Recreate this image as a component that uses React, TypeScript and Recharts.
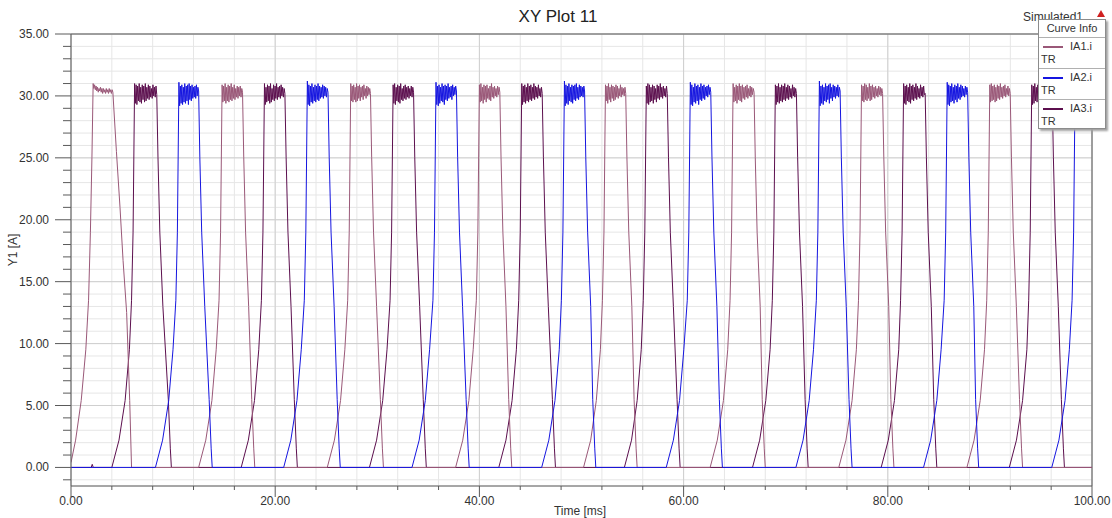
import React from 'react';
import { LineChart, Line, XAxis, YAxis, CartesianGrid, ReferenceLine } from 'recharts';

const FONT = '"Liberation Sans", Arial, sans-serif';

const TITLE = 'XY Plot 11';
const X_TITLE = 'Time [ms]';
const Y_TITLE = 'Y1 [A]';

const X_TICKS = [0, 4, 8, 12, 16, 20, 24, 28, 32, 36, 40, 44, 48, 52, 56, 60, 64, 68, 72, 76, 80, 84, 88, 92, 96, 100];
const X_MAJOR = [0, 20, 40, 60, 80, 100];
const X_LABELS = ['0.00', '20.00', '40.00', '60.00', '80.00', '100.00'];

const Y_TICKS = [-1, 0, 1, 2, 3, 4, 5, 6, 7, 8, 9, 10, 11, 12, 13, 14, 15, 16, 17, 18, 19, 20, 21, 22, 23, 24, 25, 26, 27, 28, 29, 30, 31, 32, 33, 34, 35];
const Y_MAJOR = [0, 5, 10, 15, 20, 25, 30, 35];
const Y_LABELS = ['0.00', '5.00', '10.00', '15.00', '20.00', '25.00', '30.00', '35.00'];

type Pt = [number, number];
type Pulse = { rise: Pt[]; top: [number, number]; ripple: number[]; fall: Pt[] };

// ---------- IA1.i  (time ms, current A) ----------
const IA1_LEAD: Pt[] = [];
const IA1_PULSES: Pulse[] = [
  { rise: [[0, 0.4], [0.45, 2.2], [1.0, 5.4], [1.45, 9.5], [1.72, 13.5], [1.9, 19], [2.05, 25]], top: [2.17, 4.1],
    ripple: [31.0, 30.6, 30.9, 30.5, 30.8, 30.4, 30.7, 30.3, 30.6, 30.4, 30.7, 30.3, 30.6, 30.2, 30.6, 30.3, 30.5, 30.2, 30.6, 30.3, 30.5, 30.2, 30.6, 30.3, 30.5, 30.2, 30.5, 30.3],
    fall: [[4.45, 25.5], [4.8, 21], [5.1, 16.7], [5.45, 12.5], [5.75, 5.4], [5.93, 0]] },
  { rise: [[12.5, 0], [13.2, 2.2], [13.8, 5.4], [14.22, 9.5], [14.5, 13.5], [14.65, 19]], top: [14.8, 16.8],
    ripple: [30.9, 29.5, 30.8, 29.6, 31.0, 29.4, 30.7, 29.6, 30.9, 29.5, 30.8, 29.7, 31.0, 29.6, 30.7, 29.8, 30.9, 29.7, 30.6, 29.9, 30.8, 29.8, 30.7, 30.0, 30.8, 29.9, 30.6, 30.3],
    fall: [[16.92, 25], [17.1, 19], [17.4, 13], [17.7, 5.5], [17.9, 1.5], [18.0, 0]] },
  { rise: [[25.1, 0], [25.8, 2.2], [26.4, 5.4], [26.82, 9.5], [27.1, 13.5], [27.25, 19]], top: [27.4, 29.33],
    ripple: [31.0, 29.6, 30.8, 29.5, 30.9, 29.7, 30.7, 29.5, 31.0, 29.6, 30.8, 29.8, 30.9, 29.6, 30.7, 29.9, 30.8, 29.7, 30.9, 30.0, 30.6, 29.8, 30.8, 30.0, 30.7, 30.1, 30.6, 30.2],
    fall: [[29.45, 25], [29.63, 19], [29.93, 13], [30.3, 5.5], [30.5, 1.5], [30.6, 0]] },
  { rise: [[37.67, 0], [38.37, 2.2], [38.97, 5.4], [39.39, 9.5], [39.7, 13.5], [39.85, 19]], top: [40.0, 42.0],
    ripple: [30.9, 29.5, 31.0, 29.6, 30.7, 29.4, 30.9, 29.7, 30.8, 29.5, 30.9, 29.8, 30.6, 29.7, 30.8, 29.6, 31.0, 29.9, 30.7, 29.8, 30.8, 30.0, 30.6, 29.9, 30.8, 30.1, 30.7, 30.3],
    fall: [[42.12, 25], [42.3, 19], [42.6, 13], [42.87, 5.5], [43.07, 1.5], [43.17, 0]] },
  { rise: [[50.2, 0], [50.9, 2.2], [51.45, 5.4], [51.85, 9.5], [52.05, 13.5], [52.2, 19]], top: [52.35, 54.33],
    ripple: [30.9, 29.6, 30.8, 29.4, 31.0, 29.7, 30.7, 29.5, 30.9, 29.8, 30.8, 29.6, 30.7, 29.7, 30.9, 29.9, 30.8, 29.8, 30.6, 30.0, 30.9, 29.9, 30.7, 30.1, 30.6, 30.0, 30.7, 30.2],
    fall: [[54.45, 25], [54.63, 19], [54.93, 13], [55.15, 5.5], [55.35, 1.5], [55.45, 0]] },
  { rise: [[62.6, 0], [63.3, 2.2], [63.9, 5.4], [64.32, 9.5], [64.55, 13.5], [64.7, 19]], top: [64.85, 66.9],
    ripple: [31.0, 29.5, 30.7, 29.6, 30.9, 29.4, 30.8, 29.7, 31.0, 29.6, 30.8, 29.5, 30.9, 29.8, 30.7, 29.7, 30.8, 29.9, 30.9, 29.8, 30.6, 30.0, 30.8, 29.9, 30.7, 30.1, 30.6, 30.3],
    fall: [[67.02, 25], [67.2, 19], [67.5, 13], [67.7, 5.5], [67.9, 1.5], [68.0, 0]] },
  { rise: [[75.2, 0], [75.9, 2.2], [76.5, 5.4], [76.92, 9.5], [77.13, 13.5], [77.28, 19]], top: [77.43, 79.49],
    ripple: [30.9, 29.6, 30.8, 29.5, 31.0, 29.7, 30.9, 29.6, 30.7, 29.8, 31.0, 29.6, 30.8, 29.7, 30.9, 29.9, 30.7, 29.8, 30.8, 30.0, 30.6, 29.9, 30.8, 30.1, 30.7, 30.0, 30.6, 30.2],
    fall: [[79.61, 25], [79.79, 19], [80.09, 13], [80.3, 5.5], [80.5, 1.5], [80.6, 0]] },
  { rise: [[87.75, 0], [88.45, 2.2], [89.05, 5.4], [89.47, 9.5], [89.69, 13.5], [89.84, 19]], top: [89.99, 91.99],
    ripple: [30.9, 29.5, 31.0, 29.6, 30.8, 29.7, 30.9, 29.5, 30.7, 29.6, 30.9, 29.8, 30.8, 29.7, 31.0, 29.9, 30.7, 29.8, 30.8, 30.0, 30.9, 29.9, 30.6, 30.1, 30.8, 30.0, 30.6, 30.2],
    fall: [[92.11, 25], [92.29, 19], [92.59, 13], [92.9, 5.5], [93.1, 1.5], [93.2, 0]] },
];
const IA1_TAIL: Pt[] = [[100, 0]];

// ---------- IA2.i ----------
const IA2_LEAD: Pt[] = [[0, 0]];
const IA2_PULSES: Pulse[] = [
  { rise: [[8.27, 0], [8.97, 2.2], [9.57, 5.4], [9.99, 9.5], [10.27, 13.5], [10.42, 19]], top: [10.57, 12.5],
    ripple: [31.1, 29.2, 30.8, 29.4, 30.9, 29.3, 30.7, 29.5, 31.0, 29.4, 30.8, 29.6, 30.9, 29.3, 31.0, 29.7, 30.8, 29.6, 30.9, 29.8, 30.7, 29.9, 30.8, 29.8, 30.9, 30.0, 30.7, 30.4],
    fall: [[12.62, 25], [12.8, 19], [13.1, 13], [13.53, 5.5], [13.73, 1.5], [13.83, 0]] },
  { rise: [[20.83, 0], [21.53, 2.2], [22.13, 5.4], [22.55, 9.5], [22.85, 13.5], [23.0, 19]], top: [23.15, 25.17],
    ripple: [31.2, 29.3, 30.9, 29.2, 30.8, 29.5, 31.0, 29.4, 30.7, 29.6, 30.9, 29.5, 30.8, 29.7, 31.0, 29.6, 30.8, 29.8, 30.7, 29.9, 30.9, 29.8, 30.8, 30.0, 30.7, 29.9, 30.6, 30.3],
    fall: [[25.29, 25], [25.47, 19], [25.77, 13], [26.07, 5.5], [26.27, 1.5], [26.37, 0]] },
  { rise: [[33.4, 0], [34.1, 2.2], [34.7, 5.4], [35.12, 9.5], [35.45, 13.5], [35.6, 19]], top: [35.75, 37.75],
    ripple: [31.1, 29.3, 30.8, 29.2, 30.9, 29.4, 30.7, 29.6, 31.0, 29.5, 30.8, 29.3, 30.9, 29.7, 30.8, 29.6, 31.0, 29.8, 30.7, 29.9, 30.8, 29.7, 30.9, 30.0, 30.7, 30.1, 30.8, 30.4],
    fall: [[37.87, 25], [38.05, 19], [38.35, 13], [38.7, 5.5], [38.9, 1.5], [39.0, 0]] },
  { rise: [[46.1, 0], [46.8, 2.2], [47.4, 5.4], [47.82, 9.5], [48.03, 13.5], [48.18, 19]], top: [48.33, 50.3],
    ripple: [31.2, 29.2, 30.9, 29.4, 30.8, 29.3, 31.0, 29.6, 30.7, 29.5, 30.9, 29.4, 30.8, 29.7, 30.9, 29.6, 31.0, 29.8, 30.7, 29.7, 30.9, 29.9, 30.8, 30.0, 30.7, 29.9, 30.8, 30.4],
    fall: [[50.42, 25], [50.6, 19], [50.9, 13], [51.1, 5.5], [51.3, 1.5], [51.4, 0]] },
  { rise: [[58.3, 0], [59.0, 2.2], [59.6, 5.4], [60.02, 9.5], [60.36, 13.5], [60.51, 19]], top: [60.66, 62.66],
    ripple: [31.1, 29.3, 30.9, 29.2, 30.7, 29.5, 31.0, 29.4, 30.8, 29.6, 30.9, 29.3, 30.7, 29.7, 31.0, 29.6, 30.8, 29.8, 30.9, 29.7, 30.7, 30.0, 30.8, 29.9, 30.9, 30.1, 30.7, 30.3],
    fall: [[62.78, 25], [62.96, 19], [63.26, 13], [63.5, 5.5], [63.7, 1.5], [63.8, 0]] },
  { rise: [[71.0, 0], [71.7, 2.2], [72.3, 5.4], [72.72, 9.5], [73.0, 13.5], [73.15, 19]], top: [73.3, 75.33],
    ripple: [31.2, 29.2, 30.8, 29.4, 30.9, 29.3, 30.7, 29.6, 31.0, 29.5, 30.8, 29.7, 30.9, 29.4, 31.0, 29.8, 30.7, 29.6, 30.9, 29.9, 30.8, 29.8, 30.7, 30.0, 30.9, 29.9, 30.7, 30.4],
    fall: [[75.45, 25], [75.63, 19], [75.93, 13], [76.2, 5.5], [76.4, 1.5], [76.5, 0]] },
  { rise: [[83.5, 0], [84.2, 2.2], [84.8, 5.4], [85.22, 9.5], [85.52, 13.5], [85.67, 19]], top: [85.82, 87.82],
    ripple: [31.1, 29.3, 30.9, 29.2, 30.8, 29.5, 31.0, 29.6, 30.7, 29.4, 30.9, 29.7, 30.8, 29.5, 31.0, 29.8, 30.7, 29.7, 30.9, 29.9, 30.8, 30.0, 30.6, 29.9, 30.8, 30.1, 30.7, 30.3],
    fall: [[87.94, 25], [88.12, 19], [88.42, 13], [88.6, 5.5], [88.8, 1.5], [88.9, 0]] },
  { rise: [[96.06, 0], [96.76, 2.2], [97.36, 5.4], [97.78, 9.5], [98.05, 13.5], [98.2, 19]], top: [98.35, 100],
    ripple: [31.1, 29.3, 30.8, 29.2, 30.9, 29.5, 30.7, 29.4, 31.0, 29.6, 30.8, 29.5, 30.9, 29.7, 30.7, 29.8, 31.0, 29.6, 30.8, 29.9, 30.7, 29.8, 30.9, 30.0],
    fall: [] },
];
const IA2_TAIL: Pt[] = [];

// ---------- IA3.i ----------
const IA3_LEAD: Pt[] = [[0, 0], [1.98, 0], [2.08, 0.25], [2.18, 0]];
const IA3_PULSES: Pulse[] = [
  { rise: [[4.0, 0], [4.7, 2.2], [5.3, 5.4], [5.72, 9.5], [5.93, 13.5], [6.08, 19]], top: [6.23, 8.4],
    ripple: [31.0, 29.4, 30.9, 29.3, 30.8, 29.6, 31.0, 29.5, 30.7, 29.4, 30.9, 29.7, 30.8, 29.5, 31.0, 29.6, 30.7, 29.8, 30.9, 29.7, 30.8, 29.9, 30.6, 29.8, 30.9, 30.0, 30.7, 29.9, 30.8, 30.1],
    fall: [[8.52, 25], [8.7, 19], [9.0, 13], [9.53, 5.5], [9.73, 1.5], [9.83, 0]] },
  { rise: [[16.67, 0], [17.37, 2.2], [17.97, 5.4], [18.39, 9.5], [18.65, 13.5], [18.8, 19]], top: [18.95, 20.95],
    ripple: [31.0, 29.3, 30.7, 29.5, 30.9, 29.6, 30.8, 29.4, 31.0, 29.5, 30.6, 29.7, 30.9, 29.6, 30.8, 29.8, 31.0, 29.7, 30.7, 29.9, 30.8, 29.8, 30.9, 30.0, 30.7, 29.9, 30.6, 30.2],
    fall: [[21.07, 25], [21.25, 19], [21.55, 13], [21.87, 5.5], [22.07, 1.5], [22.17, 0]] },
  { rise: [[29.23, 0], [29.93, 2.2], [30.53, 5.4], [30.95, 9.5], [31.25, 13.5], [31.4, 19]], top: [31.55, 33.55],
    ripple: [30.9, 29.4, 31.0, 29.3, 30.7, 29.6, 30.9, 29.5, 30.8, 29.4, 31.0, 29.7, 30.6, 29.6, 30.8, 29.8, 30.9, 29.7, 30.7, 29.9, 30.8, 29.8, 30.6, 30.0, 30.8, 29.9, 30.7, 30.3],
    fall: [[33.67, 25], [33.85, 19], [34.15, 13], [34.5, 5.5], [34.7, 1.5], [34.8, 0]] },
  { rise: [[41.9, 0], [42.6, 2.2], [43.2, 5.4], [43.62, 9.5], [43.85, 13.5], [44.0, 19]], top: [44.15, 46.15],
    ripple: [31.0, 29.3, 30.8, 29.5, 30.9, 29.4, 30.7, 29.6, 31.0, 29.5, 30.8, 29.7, 30.9, 29.6, 30.7, 29.8, 31.0, 29.7, 30.8, 29.9, 30.7, 29.8, 30.9, 30.0, 30.6, 29.9, 30.7, 30.2],
    fall: [[46.27, 25], [46.45, 19], [46.75, 13], [47.15, 5.5], [47.35, 1.5], [47.45, 0]] },
  { rise: [[54.2, 0], [54.9, 2.2], [55.45, 5.4], [55.85, 9.5], [56.05, 13.5], [56.2, 19]], top: [56.35, 58.4],
    ripple: [30.8, 29.4, 31.0, 29.3, 30.9, 29.5, 30.7, 29.6, 30.9, 29.4, 30.8, 29.7, 30.6, 29.5, 30.9, 29.8, 30.8, 29.7, 31.0, 29.9, 30.7, 29.8, 30.8, 30.0, 30.6, 29.9, 30.8, 30.2],
    fall: [[58.52, 25], [58.7, 19], [59.0, 13], [59.36, 5.5], [59.56, 1.5], [59.66, 0]] },
  { rise: [[66.75, 0], [67.45, 2.2], [68.05, 5.4], [68.47, 9.5], [68.69, 13.5], [68.84, 19]], top: [68.99, 71.05],
    ripple: [30.9, 29.3, 30.8, 29.5, 31.0, 29.4, 30.7, 29.6, 30.9, 29.5, 30.8, 29.7, 31.0, 29.6, 30.7, 29.8, 30.9, 29.7, 30.8, 29.9, 30.6, 29.8, 30.9, 30.0, 30.7, 29.9, 30.6, 30.2],
    fall: [[71.17, 25], [71.35, 19], [71.65, 13], [71.9, 5.5], [72.1, 1.5], [72.2, 0]] },
  { rise: [[79.35, 0], [80.05, 2.2], [80.65, 5.4], [81.07, 9.5], [81.25, 13.5], [81.4, 19]], top: [81.55, 83.66],
    ripple: [31.0, 29.4, 30.8, 29.3, 30.9, 29.6, 30.7, 29.5, 31.0, 29.4, 30.8, 29.7, 30.9, 29.6, 30.7, 29.8, 31.0, 29.7, 30.8, 29.9, 30.6, 29.8, 30.9, 30.0, 30.7, 29.9, 30.8, 30.1, 30.2],
    fall: [[83.78, 25], [83.96, 19], [84.26, 13], [84.5, 5.5], [84.7, 1.5], [84.8, 0]] },
  { rise: [[91.9, 0], [92.6, 2.2], [93.2, 5.4], [93.62, 9.5], [93.8, 13.5], [93.95, 19]], top: [94.1, 96.1],
    ripple: [30.9, 29.3, 30.8, 29.4, 31.0, 29.6, 30.7, 29.5, 30.9, 29.4, 30.8, 29.7, 31.0, 29.6, 30.7, 29.8, 30.9, 29.7, 30.8, 29.9, 30.7, 29.8, 30.9, 30.0, 30.6, 29.9, 30.7, 30.3],
    fall: [[96.22, 25], [96.4, 19], [96.7, 13], [97.0, 5.5], [97.2, 1.5], [97.3, 0]] },
];
const IA3_TAIL: Pt[] = [[100, 0]];

const SERIES_NAMES = ['IA1.i', 'IA2.i', 'IA3.i'];
const SERIES_SUB = ['TR', 'TR', 'TR'];
const SERIES_COLORS = ['#9a5878', '#1515e0', '#5c0f4e'];

// ripple samples of each flat top are laid out over the top's read time span
const buildRows = (lead: Pt[], pulses: Pulse[], tail: Pt[]) => {
  const pts: Pt[] = [...lead];
  pulses.forEach((p) => {
    pts.push(...p.rise);
    const n = p.ripple.length;
    p.ripple.forEach((v, i) => pts.push([p.top[0] + ((p.top[1] - p.top[0]) * i) / (n - 1), v]));
    pts.push(...p.fall);
  });
  pts.push(...tail);
  return pts.map(([t, v]) => ({ t, v }));
};
const IA1_DATA = buildRows(IA1_LEAD, IA1_PULSES, IA1_TAIL);
const IA2_DATA = buildRows(IA2_LEAD, IA2_PULSES, IA2_TAIL);
const IA3_DATA = buildRows(IA3_LEAD, IA3_PULSES, IA3_TAIL);

const AXIS = '#5a5a5a';
const TXT = '#333333';

const XTick = (props: any) => {
  const { x, y, payload } = props;
  const i = X_MAJOR.indexOf(payload.value);
  const major = i >= 0;
  return (
    <g>
      <line x1={x} x2={x} y1={y} y2={y + (major ? 11 : 4)} stroke={AXIS} strokeWidth={1} />
      {major && (
        <text x={x} y={y + 19} textAnchor="middle" fontSize={12} fill={TXT} fontFamily={FONT}>
          {X_LABELS[i]}
        </text>
      )}
    </g>
  );
};

const YTick = (props: any) => {
  const { x, y, payload } = props;
  const i = Y_MAJOR.indexOf(payload.value);
  const major = i >= 0;
  return (
    <g>
      <line x1={x - (major ? 16 : 8)} x2={x} y1={y} y2={y} stroke={AXIS} strokeWidth={1} />
      {major && (
        <text x={x - 22} y={y + 4} textAnchor="end" fontSize={12} fill={TXT} fontFamily={FONT}>
          {Y_LABELS[i]}
        </text>
      )}
    </g>
  );
};

const LegendBox = () => (
  <div
    style={{
      position: 'absolute',
      left: 1038,
      top: 19,
      width: 68,
      height: 110,
      background: '#fff',
      border: '1px solid #8c8c8c',
      boxShadow: '2px 2px 2px #a0a0a0',
      fontFamily: FONT,
      fontSize: 11,
      color: TXT,
      boxSizing: 'border-box',
    }}
  >
    <div style={{ height: 17, lineHeight: '17px', textAlign: 'center', borderBottom: '1px solid #b0b0b0' }}>Curve Info</div>
    {SERIES_NAMES.map((n, i) => (
      <div
        key={n}
        style={{
          position: 'relative',
          height: 30,
          borderBottom: i < SERIES_NAMES.length - 1 ? '1px solid #b0b0b0' : 'none',
        }}
      >
        <div style={{ position: 'absolute', left: 4, top: 8, width: 20, height: 0, borderTop: `2px solid ${SERIES_COLORS[i]}` }} />
        <div style={{ position: 'absolute', left: 31, top: 2, lineHeight: '13px' }}>{n}</div>
        <div style={{ position: 'absolute', left: 2, top: 15, lineHeight: '13px' }}>{SERIES_SUB[i]}</div>
      </div>
    ))}
  </div>
);

export default function App() {
  return (
    <div style={{ position: 'absolute', left: 0, top: 0, width: 1112, height: 518, background: '#fff', overflow: 'hidden' }}>
      <div
        style={{
          position: 'absolute',
          left: 0,
          width: 1112,
          top: 7,
          textAlign: 'center',
          fontFamily: FONT,
          fontSize: 17,
          color: '#222',
          lineHeight: '20px',
          paddingLeft: 2,
        }}
      >
        {TITLE}
      </div>
      <div style={{ position: 'absolute', left: 1023, top: 10, fontFamily: FONT, fontSize: 12, color: TXT, lineHeight: '14px' }}>
        Simulated1
      </div>
      <svg style={{ position: 'absolute', left: 1097, top: 10 }} width={8} height={8}>
        <polygon points="4,0 8,7 0,7" fill="#d02020" />
      </svg>
      <div style={{ position: 'absolute', left: 0, top: 0 }}>
        <LineChart width={1112} height={518} margin={{ top: 34, right: 20, bottom: 0, left: 0 }}>
          <CartesianGrid stroke="#e6e6e6" strokeWidth={1} />
          <CartesianGrid stroke="#cfcfcf" strokeWidth={1} horizontalValues={Y_MAJOR} verticalValues={X_MAJOR} />
          <XAxis
            dataKey="t"
            type="number"
            domain={[0, 100]}
            ticks={X_TICKS}
            interval={0}
            allowDataOverflow
            height={32}
            tickSize={0}
            tickMargin={0}
            tickLine={false}
            tick={<XTick />}
            axisLine={{ stroke: AXIS }}
          />
          <YAxis
            type="number"
            domain={[-1.5, 35]}
            ticks={Y_TICKS}
            interval={0}
            allowDataOverflow
            width={71}
            tickSize={0}
            tickMargin={0}
            tickLine={false}
            tick={<YTick />}
            axisLine={{ stroke: AXIS }}
          />
          <ReferenceLine y={35} stroke={AXIS} />
          <ReferenceLine x={100} stroke={AXIS} />
          <Line data={IA3_DATA} dataKey="v" name={SERIES_NAMES[2]} stroke={SERIES_COLORS[2]} strokeWidth={1} dot={false} isAnimationActive={false} />
          <Line data={IA1_DATA} dataKey="v" name={SERIES_NAMES[0]} stroke={SERIES_COLORS[0]} strokeWidth={1} dot={false} isAnimationActive={false} />
          <Line data={IA2_DATA} dataKey="v" name={SERIES_NAMES[1]} stroke={SERIES_COLORS[1]} strokeWidth={1} dot={false} isAnimationActive={false} />
        </LineChart>
      </div>
      <div
        style={{
          position: 'absolute',
          left: 580 - 40,
          width: 80,
          top: 504,
          textAlign: 'center',
          fontFamily: FONT,
          fontSize: 12,
          color: TXT,
          lineHeight: '14px',
        }}
      >
        {X_TITLE}
      </div>
      <div
        style={{
          position: 'absolute',
          left: 13 - 30,
          top: 250 - 7,
          width: 60,
          textAlign: 'center',
          transform: 'rotate(-90deg)',
          fontFamily: FONT,
          fontSize: 12,
          color: TXT,
          lineHeight: '14px',
        }}
      >
        {Y_TITLE}
      </div>
      <LegendBox />
    </div>
  );
}
